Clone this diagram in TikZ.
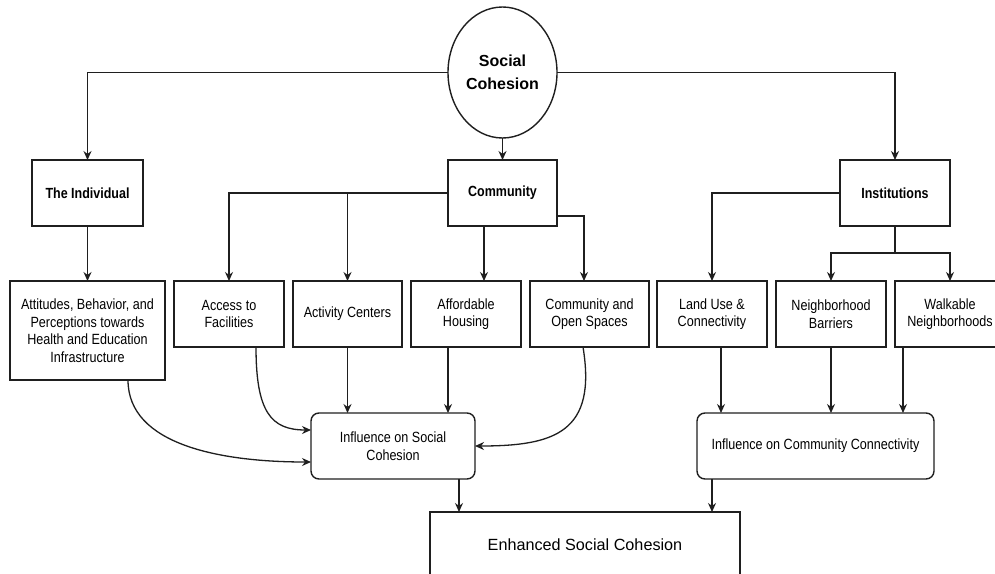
\documentclass[tikz,border=0pt]{standalone}
\usepackage{fontspec}
\setmainfont{Liberation Sans}
\newfontfamily\boxfont{Liberation Sans}[FakeStretch=0.85]
\usetikzlibrary{shapes.geometric,arrows.meta,calc}
\begin{document}
\begin{tikzpicture}[x=1pt,y=-1pt,
  every node/.style={inner sep=0pt, outer sep=0pt},
  bx/.style={draw=black!88, line width=1.4pt, rectangle, minimum height=66pt, align=center, text=black, font=\boxfont\fontsize{14.8}{17.5}\selectfont},
  rbx/.style={bx, rounded corners=8pt},
  ttl/.style={bx, font=\boxfont\bfseries\fontsize{14.7}{17.5}\selectfont},
  arr/.style={draw=black!88, line width=1.3pt, -{Stealth[length=9pt,width=8pt]}},
  ln/.style={draw=black!88, line width=1.3pt}]
\useasboundingbox (0,0) rectangle (995,573);
\fill[white] (0,0) rectangle (995,573);

\node[ellipse, draw=black!88, line width=1.4pt, minimum width=109pt, minimum height=131pt, align=center, font=\bfseries\fontsize{16}{23}\selectfont] (sc) at (502.5,72.5) {Social\\Cohesion};

\node[ttl, minimum width=111pt] (ind) at (87.5,193) {The Individual};
\node[ttl, minimum width=109pt] (com) at (502.5,193) {Community};
\node[ttl, minimum width=110pt] (ins) at (895,193) {Institutions};

\node[bx, minimum width=155pt, minimum height=99pt] (att) at (87.5,330.5) {Attitudes, Behavior, and\\Perceptions towards\\Health and Education\\Infrastructure};
\node[bx, minimum width=110pt] (acc) at (229,314) {Access to\\Facilities};
\node[bx, minimum width=109pt] (act) at (347.5,314) {Activity Centers};
\node[bx, minimum width=110pt] (aff) at (466,314) {Affordable\\Housing};
\node[bx, minimum width=119pt] (opn) at (589.5,314) {Community and\\Open Spaces};
\node[bx, minimum width=110pt] (lnd) at (712,314) {Land Use \&\\Connectivity};
\node[bx, minimum width=110pt] (nb) at (831,314) {Neighborhood\\Barriers};
\node[bx, minimum width=110pt] (wk) at (950,314) {Walkable\\Neighborhoods};

\node[rbx, minimum width=164pt] (isc) at (393,446) {Influence on Social\\Cohesion};
\node[rbx, minimum width=237pt] (icc) at (815.5,446) {Influence on Community Connectivity};

\node[bx, minimum width=310pt, font=\fontsize{16.2}{20}\selectfont] (enh) at (585,545) {Enhanced Social Cohesion};

% top level
\draw[arr] (sc.west) -| (ind.north);
\draw[arr] (sc.east) -| (ins.north);
\draw[arr] (sc.south) -- (com.north);

% community branches
\draw[arr] (com.west) -| (acc.north);
\draw[arr] (act.north |- com.west) -- (act.north);
\coordinate (affin) at ([xshift=18pt]aff.north);
\draw[arr] (com.south -| affin) -- (affin);
\coordinate (opin) at ([xshift=-5.5pt]opn.north);
\draw[arr] ([yshift=-23pt]com.east) -| (opin);

% individual
\draw[arr] (ind.south) -- (att.north);

% institutions branches
\draw[arr] (ins.west) -| (lnd.north);
\coordinate (ij) at ([yshift=-27pt]ins.south);
\draw[ln] (ins.south) -- (ij);
\draw[arr] (ij) -| (nb.north);
\draw[arr] (ij) -| (wk.north);

% into influence on social cohesion
\coordinate (attout) at ([xshift=40.5pt]att.south);
\coordinate (isc1) at ([yshift=-16pt]isc.west);
\draw[arr] (attout) .. controls +(0,65) and +(-90,0) .. (isc1);
\coordinate (accout) at ([xshift=27pt]acc.south);
\coordinate (isc2) at ([yshift=16pt]isc.west);
\draw[arr] (accout) .. controls +(0,65) and +(-40,0) .. (isc2);
\coordinate (opout) at ([xshift=-6.5pt]opn.south);
\draw[arr] (opout) .. controls +(14,85) and +(80,0) .. (isc.east);
\draw[arr] (act.south) -- (act.south |- isc.north);
\coordinate (affout) at ([xshift=-18pt]aff.south);
\draw[arr] (affout) -- (affout |- isc.north);

% into influence on community connectivity
\coordinate (lndout) at ([xshift=9pt]lnd.south);
\draw[arr] (lndout) -- (lndout |- icc.north);
\draw[arr] (nb.south) -- (nb.south |- icc.north);
\coordinate (wkout) at ([xshift=-47pt]wk.south);
\draw[arr] (wkout) -- (wkout |- icc.north);

% into enhanced
\coordinate (iscout) at ([xshift=66pt]isc.south);
\draw[arr] (iscout) -- (iscout |- enh.north);
\coordinate (iccout) at ([xshift=-103.5pt]icc.south);
\draw[arr] (iccout) -- (iccout |- enh.north);
\end{tikzpicture}
\end{document}
